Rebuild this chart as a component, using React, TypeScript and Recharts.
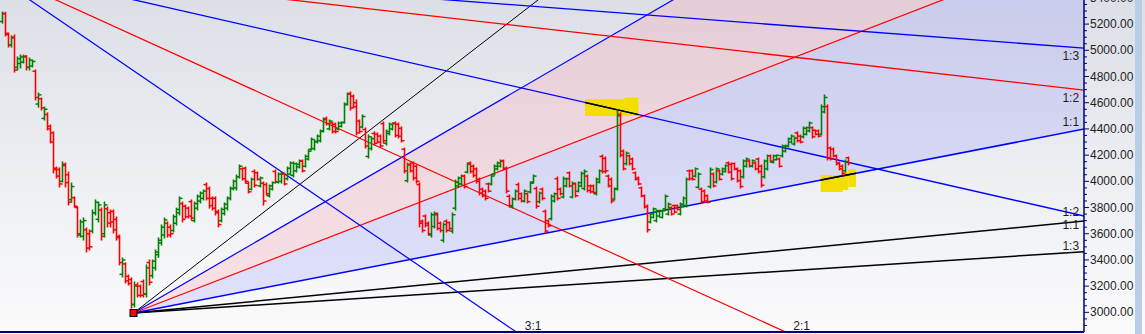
import React from 'react';
import {
  ComposedChart,
  Bar,
  Area,
  XAxis,
  YAxis,
  ReferenceLine,
  ReferenceArea,
  ReferenceDot,
} from 'recharts';

// ---------- price bars (OHLC), one entry per bar ----------
const opens = [
  5220, 5280, 5120, 5040, 5100, 4870, 4900, 4910, 4950, 4870,
  4880, 4840, 4590, 4630, 4480, 4510, 4420, 4370, 4100, 4090,
  4000, 4130, 4050, 3860, 3875, 3800, 3590, 3580, 3630, 3600,
  3620, 3760, 3710, 3780, 3600, 3790, 3760, 3770, 3710, 3580,
  3290, 3370, 3275, 3250, 3060, 3210, 3200, 3235, 3140, 3380,
  3280, 3340, 3440, 3530, 3590, 3680, 3650, 3625, 3680, 3760,
  3830, 3810, 3795, 3845, 3700, 3795, 3850, 3870, 3975, 3945,
  3870, 3870, 3770, 3700, 3755, 3795, 3870, 3945, 3950, 4035,
  4095, 4100, 3985, 3940, 4075, 4065, 3965, 3985, 3975, 3890,
  3940, 4075, 3995, 4000, 4055, 4020, 4055, 4045, 4080, 4110,
  4155, 4115, 4170, 4245, 4250, 4300, 4310, 4385, 4480, 4400,
  4445, 4435, 4400, 4420, 4450, 4590, 4670, 4650, 4600, 4460,
  4415, 4395, 4190, 4250, 4365, 4360, 4345, 4440, 4290, 4365,
  4400, 4445, 4435, 4405, 4245, 4005, 4130, 4140, 4115, 3975,
  3695, 3735, 3680, 3590, 3655, 3745, 3680, 3550, 3695, 3685,
  3620, 3795, 3965, 3980, 4040, 4070, 4140, 4115, 4095, 4015,
  3940, 3925, 3980, 3980, 4055, 4095, 4115, 4155, 4100, 3885,
  3805, 3865, 3975, 3905, 3850, 3905, 3920, 3995, 3945, 3845,
  3940, 3770, 3700, 3715, 3850, 4020, 3940, 3880, 3965, 4065,
  3880, 3980, 3925, 3965, 3945, 4040, 3965, 3965, 3905, 3995,
  4190, 4175, 4040, 4015, 3865, 3945, 4510, 4230, 4135, 4195,
  4170, 4065, 4025, 3950, 3890, 3810, 3690, 3725, 3700, 3735,
  3725, 3790, 3750, 3800, 3815, 3815, 3750, 3810, 3815, 4080,
  4080, 4040, 3955, 3940, 3925, 3890, 3960, 4055, 3995, 4080,
  4055, 4075, 4140, 4130, 4135, 4095, 4080, 4035, 4115, 4155,
  4115, 4140, 4170, 4115, 4035, 4095, 4195, 4145, 4165, 4170,
  4195, 4230, 4270, 4300, 4285, 4370, 4345, 4340, 4360, 4385,
  4410, 4390, 4385, 4360, 4530, 4570, 4255, 4245, 4195, 4140,
  4115, 4080, 4180,
];
const highs = [
  5292, 5290, 5132, 5110, 5117, 4949, 4964, 4964, 4960, 4941,
  4926, 4850, 4674, 4636, 4567, 4522, 4430, 4377, 4109, 4102,
  4148, 4140, 4071, 3987, 3881, 3804, 3705, 3720, 3644, 3629,
  3781, 3858, 3842, 3796, 3842, 3804, 3781, 3781, 3728, 3590,
  3415, 3377, 3285, 3262, 3232, 3224, 3209, 3247, 3362, 3400,
  3400, 3476, 3568, 3667, 3720, 3690, 3667, 3743, 3796, 3881,
  3842, 3819, 3804, 3858, 3842, 3896, 3919, 3934, 3987, 3957,
  3881, 3881, 3781, 3796, 3835, 3881, 3957, 4010, 4048, 4125,
  4102, 4109, 3995, 4025, 4087, 4071, 4033, 3995, 3987, 3972,
  3995, 4087, 4064, 4071, 4064, 4109, 4148, 4148, 4140, 4163,
  4163, 4201, 4239, 4331, 4316, 4354, 4392, 4483, 4491, 4468,
  4453, 4445, 4453, 4453, 4598, 4674, 4682, 4659, 4621, 4468,
  4506, 4407, 4354, 4338, 4377, 4369, 4354, 4453, 4392, 4445,
  4445, 4453, 4445, 4415, 4254, 4140, 4140, 4148, 4125, 3987,
  3705, 3743, 3690, 3758, 3766, 3758, 3690, 3682, 3705, 3690,
  3758, 4010, 4033, 4048, 4048, 4140, 4148, 4125, 4102, 4025,
  3949, 3934, 3987, 4048, 4125, 4148, 4163, 4163, 4109, 3896,
  3873, 3934, 3987, 3911, 3934, 3911, 3995, 4048, 3957, 3919,
  3949, 3781, 3705, 3896, 3911, 4033, 3949, 4033, 4025, 4071,
  3995, 3987, 3995, 4071, 4087, 4048, 3972, 3972, 4025, 4087,
  4201, 4186, 4048, 4025, 3949, 4544, 4522, 4239, 4224, 4201,
  4178, 4071, 4033, 3957, 3896, 3819, 3758, 3796, 3781, 3781,
  3781, 3896, 3835, 3804, 3819, 3819, 3835, 3881, 4025, 4087,
  4087, 4102, 4064, 3949, 3934, 3896, 4102, 4064, 4102, 4087,
  4102, 4125, 4148, 4140, 4140, 4102, 4087, 4163, 4178, 4163,
  4163, 4148, 4178, 4125, 4163, 4201, 4201, 4201, 4201, 4178,
  4277, 4277, 4331, 4354, 4338, 4377, 4354, 4415, 4415, 4453,
  4415, 4392, 4392, 4583, 4659, 4583, 4262, 4254, 4201, 4148,
  4125, 4163, 4186,
];
const lows = [
  5208, 5110, 5025, 5025, 4834, 4850, 4865, 4903, 4850, 4850,
  4873, 4621, 4567, 4544, 4468, 4392, 4293, 4064, 4025, 3957,
  3995, 3957, 3819, 3842, 3804, 3575, 3575, 3552, 3461, 3476,
  3606, 3743, 3690, 3552, 3575, 3652, 3652, 3606, 3552, 3362,
  3270, 3224, 3209, 3033, 3041, 3117, 3117, 3117, 3117, 3209,
  3262, 3323, 3420, 3514, 3568, 3575, 3575, 3613, 3667, 3743,
  3690, 3720, 3720, 3705, 3690, 3781, 3835, 3858, 3858, 3796,
  3781, 3743, 3652, 3690, 3743, 3781, 3858, 3934, 3934, 4025,
  4010, 3987, 3911, 3934, 3957, 4010, 3957, 3819, 3896, 3881,
  3934, 3987, 3987, 3987, 3972, 4010, 4048, 4033, 4071, 4102,
  4071, 4109, 4163, 4239, 4239, 4293, 4300, 4377, 4430, 4392,
  4369, 4369, 4392, 4415, 4445, 4583, 4544, 4560, 4354, 4369,
  4407, 4254, 4178, 4239, 4277, 4293, 4262, 4293, 4277, 4354,
  4392, 4338, 4331, 4300, 4064, 3995, 4071, 4010, 3987, 3652,
  3613, 3652, 3590, 3575, 3644, 3629, 3613, 3537, 3613, 3629,
  3606, 3781, 3957, 3972, 3949, 4064, 4064, 4033, 3987, 3896,
  3881, 3858, 3919, 3972, 4048, 4087, 4109, 4087, 3911, 3804,
  3796, 3858, 3858, 3842, 3842, 3835, 3911, 3987, 3796, 3835,
  3858, 3606, 3652, 3705, 3842, 3858, 3896, 3873, 3957, 3957,
  3873, 3881, 3919, 3957, 3934, 3919, 3911, 3911, 3896, 3987,
  4064, 4064, 3957, 3835, 3858, 3934, 4186, 4087, 4125, 4125,
  4087, 4010, 3972, 3881, 3796, 3613, 3682, 3720, 3690, 3728,
  3720, 3781, 3743, 3743, 3758, 3781, 3743, 3804, 3804, 4010,
  4010, 4033, 3949, 3835, 3842, 3835, 3949, 3957, 3987, 4010,
  4048, 4071, 4064, 4010, 4087, 3995, 3949, 4025, 4109, 4109,
  4109, 4087, 4064, 3957, 4025, 4087, 4148, 4140, 4163, 4109,
  4186, 4224, 4262, 4293, 4277, 4300, 4293, 4331, 4354, 4377,
  4331, 4354, 4338, 4354, 4522, 4163, 4163, 4186, 4125, 4087,
  4048, 4071, 4125,
];
const closes = [
  5280, 5130, 5040, 5095, 4850, 4935, 4950, 4955, 4870, 4925,
  4915, 4640, 4660, 4560, 4550, 4400, 4300, 4090, 4040, 3980,
  4120, 3990, 3840, 3960, 3810, 3600, 3690, 3700, 3490, 3500,
  3760, 3840, 3820, 3580, 3820, 3680, 3690, 3630, 3570, 3380,
  3400, 3240, 3220, 3060, 3200, 3130, 3130, 3140, 3340, 3230,
  3390, 3460, 3550, 3650, 3705, 3590, 3600, 3730, 3785, 3870,
  3710, 3730, 3735, 3720, 3830, 3885, 3910, 3925, 3870, 3815,
  3795, 3760, 3670, 3785, 3825, 3870, 3945, 4000, 4035, 4115,
  4020, 4000, 3920, 4015, 3970, 4015, 4025, 3850, 3905, 3965,
  3990, 3995, 4055, 4060, 3980, 4100, 4140, 4135, 4130, 4155,
  4080, 4190, 4230, 4320, 4305, 4345, 4380, 4470, 4440, 4460,
  4380, 4380, 4445, 4448, 4585, 4665, 4560, 4570, 4370, 4380,
  4495, 4270, 4340, 4325, 4290, 4300, 4270, 4310, 4380, 4435,
  4440, 4350, 4345, 4310, 4080, 4125, 4080, 4025, 4000, 3680,
  3625, 3665, 3600, 3745, 3755, 3640, 3625, 3670, 3625, 3640,
  3745, 3995, 4025, 4040, 3960, 4130, 4075, 4045, 4000, 3910,
  3890, 3870, 3925, 4040, 4115, 4140, 4155, 4095, 3925, 3815,
  3865, 3925, 3870, 3850, 3925, 3845, 3985, 4040, 3810, 3910,
  3870, 3620, 3660, 3885, 3905, 3870, 3905, 4020, 4020, 3965,
  3985, 3890, 3990, 4060, 4075, 3930, 3920, 3915, 4015, 4080,
  4075, 4080, 3965, 3850, 3940, 4500, 4200, 4095, 4215, 4135,
  4095, 4015, 3980, 3890, 3805, 3630, 3750, 3790, 3775, 3775,
  3775, 3885, 3825, 3750, 3765, 3785, 3825, 3870, 4015, 4020,
  4015, 4095, 4055, 3845, 3850, 3840, 4090, 3965, 4095, 4015,
  4095, 4120, 4070, 4020, 4095, 4005, 3960, 4155, 4170, 4115,
  4158, 4095, 4075, 3970, 4155, 4195, 4155, 4195, 4198, 4115,
  4270, 4272, 4325, 4345, 4330, 4310, 4300, 4405, 4410, 4445,
  4340, 4360, 4345, 4570, 4640, 4180, 4170, 4195, 4135, 4095,
  4060, 4150, 4140,
];

// ---------- axis ----------
const priceTicks = [3000, 3200, 3400, 3600, 3800, 4000, 4200, 4400, 4600, 4800, 5000, 5200, 5400];
const MINOR_STEP = 50;
const X_MIN = -0.5;
const X_MAX = 360.833;
const Y_MIN = 2850;
const Y_MAX = 5384;
const X_END = 372;

// ---------- Gann fans ----------
const lowPivot = { i: 44, p: 2995, unit: 4.43 };
const highPivot = { i: -8, p: 5657, unit: -5.21 };
const lowFan = [
  { ratio: 1 / 3, color: '#000000', w: 1.5 },
  { ratio: 1 / 2, color: '#000000', w: 1.5 },
  { ratio: 1, color: '#0000ff', w: 1.5 },
  { ratio: 2, color: '#ff0000', w: 1.2 },
  { ratio: 3, color: '#0000ff', w: 1.2 },
  { ratio: 4, color: '#000000', w: 1 },
];
const highFan = [
  { ratio: 1 / 3, color: '#0000ff', w: 1.3 },
  { ratio: 1 / 2, color: '#ff0000', w: 1.3 },
  { ratio: 1, color: '#0000ff', w: 1.3 },
  { ratio: 2, color: '#ff0000', w: 1.2 },
  { ratio: 3, color: '#0000ff', w: 1.2 },
];

const fanLabels = [
  { text: '1:3', i: 359.2, p: 4960, anchor: 'end' },
  { text: '1:2', i: 359.2, p: 4636, anchor: 'end' },
  { text: '1:1', i: 359.2, p: 4453, anchor: 'end' },
  { text: '1:2', i: 359.2, p: 3766, anchor: 'end' },
  { text: '1:1', i: 359.2, p: 3664, anchor: 'end' },
  { text: '1:3', i: 359.2, p: 3510, anchor: 'end' },
  { text: '3:1', i: 177.2, p: 2896, anchor: 'middle' },
  { text: '2:1', i: 266.7, p: 2896, anchor: 'middle' },
];

// ---------- highlighter marks ----------
const highlightBoxes = [
  { i1: 194.5, i2: 207.83, p1: 4499, p2: 4628 },
  { i1: 207.83, i2: 212.33, p1: 4499, p2: 4640 },
  { i1: 273.07, i2: 280.5, p1: 3919, p2: 4048 },
  { i1: 280.5, i2: 282.27, p1: 3934, p2: 4071 },
  { i1: 282.27, i2: 284.83, p1: 3957, p2: 4094 },
];
const highlightSegs = [
  { fan: 'high', ratio: 1, i1: 194.5, i2: 212.33 },
  { fan: 'low', ratio: 1, i1: 273.07, i2: 284.83 },
];

const GREEN = '#008000';
const RED = '#ff0000';
const NAVY = '#000080';
const FONT = '"Liberation Sans", Arial, sans-serif';

type Pivot = { i: number; p: number; unit: number };
const fanPrice = (pv: Pivot, ratio: number, i: number) => pv.p + pv.unit * ratio * (i - pv.i);

function OhlcShape(props: any) {
  const { x, y, width, height, payload } = props;
  if (!payload || x == null || y == null) return null;
  const { o, h, l, c } = payload;
  const top = Math.min(y, y + height);
  const bot = Math.max(y, y + height);
  const span = h - l || 1;
  const yOf = (v: number) => top + ((h - v) / span) * (bot - top);
  const cx = Math.round(x + width / 2) + 0.5;
  const color = c >= o ? GREEN : RED;
  return (
    <g>
      <line x1={cx} x2={cx} y1={top - 0.5} y2={bot + 0.5} stroke={color} strokeWidth={1.6} />
      <line x1={cx - 3} x2={cx} y1={yOf(o)} y2={yOf(o)} stroke={color} strokeWidth={1.5} />
      <line x1={cx} x2={cx + 3} y1={yOf(c)} y2={yOf(c)} stroke={color} strokeWidth={1.5} />
    </g>
  );
}

function RightTick(props: any) {
  const { x, y, payload } = props;
  const v = payload.value;
  const major = v % 200 === 0;
  return (
    <g>
      <line x1={x} x2={x + (major ? 5 : 3)} y1={y} y2={y} stroke={NAVY} strokeWidth={1} />
      {major && (
        <text
          x={x + 6}
          y={y}
          dominantBaseline="central"
          fontSize={12}
          fontFamily={FONT}
          fill="#1e1e1e"
        >
          {v.toFixed(2)}
        </text>
      )}
    </g>
  );
}

export default function App() {
  const bars = opens.map((o, i) => ({
    i,
    o,
    h: highs[i],
    l: lows[i],
    c: closes[i],
    range: [lows[i], highs[i]],
  }));

  const allTicks: number[] = [];
  for (let v = priceTicks[0] - 2 * MINOR_STEP; v <= priceTicks[priceTicks.length - 1]; v += MINOR_STEP) {
    allTicks.push(v);
  }

  const pinkBand = [
    { i: lowPivot.i, band: [lowPivot.p, lowPivot.p] },
    { i: X_END, band: [fanPrice(lowPivot, 2, X_END), fanPrice(lowPivot, 3, X_END)] },
  ];
  const lavBand = [
    { i: lowPivot.i, band: [lowPivot.p, lowPivot.p] },
    { i: X_END, band: [fanPrice(lowPivot, 1, X_END), fanPrice(lowPivot, 2, X_END)] },
  ];

  return (
    <div
      style={{
        position: 'relative',
        width: 1145,
        height: 334,
        overflow: 'hidden',
        background: 'linear-gradient(to bottom, #dcdfe6 0%, #eceef2 50%, #fbfbfc 100%)',
      }}
    >
      <style>{'body{margin:0}'}</style>
      <ComposedChart
        width={1145}
        height={334}
        data={bars}
        margin={{ top: 0, right: 0, bottom: 2, left: 0 }}
      >
        <XAxis type="number" dataKey="i" domain={[X_MIN, X_MAX]} allowDataOverflow hide />
        <YAxis
          orientation="right"
          type="number"
          domain={[Y_MIN, Y_MAX]}
          allowDataOverflow
          ticks={allTicks}
          interval={0}
          width={61}
          tickSize={0}
          tickMargin={0}
          tickLine={false}
          axisLine={{ stroke: NAVY, strokeWidth: 1.5 }}
          tick={<RightTick />}
        />

        <Area
          data={lavBand}
          dataKey="band"
          type="linear"
          stroke="none"
          fill="#8080ff"
          fillOpacity={0.2}
          dot={false}
          activeDot={false}
          isAnimationActive={false}
          zIndex={100}
        />
        <Area
          data={pinkBand}
          dataKey="band"
          type="linear"
          stroke="none"
          fill="#ff8da0"
          fillOpacity={0.22}
          dot={false}
          activeDot={false}
          isAnimationActive={false}
          zIndex={100}
        />

        {highlightBoxes.map((b, k) => (
          <ReferenceArea
            key={'hb' + k}
            x1={b.i1}
            x2={b.i2}
            y1={b.p1}
            y2={b.p2}
            fill="#f4de00"
            fillOpacity={1}
            stroke="none"
            ifOverflow="visible"
            zIndex={150}
          />
        ))}

        {lowFan.map((f, k) => (
          <ReferenceLine
            key={'lf' + k}
            segment={[
              { x: lowPivot.i, y: lowPivot.p },
              { x: X_END, y: fanPrice(lowPivot, f.ratio, X_END) },
            ]}
            stroke={f.color}
            strokeWidth={f.w}
            ifOverflow="hidden"
            zIndex={200}
          />
        ))}
        {highFan.map((f, k) => (
          <ReferenceLine
            key={'hf' + k}
            segment={[
              { x: highPivot.i, y: highPivot.p },
              { x: X_END, y: fanPrice(highPivot, f.ratio, X_END) },
            ]}
            stroke={f.color}
            strokeWidth={f.w}
            ifOverflow="hidden"
            zIndex={200}
          />
        ))}
        {highlightSegs.map((s, k) => {
          const pv = s.fan === 'high' ? highPivot : lowPivot;
          return (
            <ReferenceLine
              key={'hs' + k}
              segment={[
                { x: s.i1, y: fanPrice(pv, s.ratio, s.i1) },
                { x: s.i2, y: fanPrice(pv, s.ratio, s.i2) },
              ]}
              stroke="#000000"
              strokeWidth={1.5}
              ifOverflow="hidden"
              zIndex={250}
            />
          );
        })}

        <ReferenceLine y={Y_MIN} stroke={NAVY} strokeWidth={2} ifOverflow="visible" zIndex={260} />

        <Bar
          dataKey="range"
          barSize={3}
          shape={OhlcShape}
          isAnimationActive={false}
          zIndex={300}
        />

        <ReferenceDot
          x={lowPivot.i}
          y={lowPivot.p}
          r={4}
          ifOverflow="visible"
          zIndex={400}
          shape={(p: any) => (
            <rect
              x={p.cx - 3.5}
              y={p.cy - 3.5}
              width={7}
              height={7}
              fill="#ff0000"
              stroke="#000000"
              strokeWidth={1}
            />
          )}
        />

        {fanLabels.map((lab, k) => (
          <ReferenceDot
            key={'lab' + k}
            x={lab.i}
            y={lab.p}
            r={0}
            ifOverflow="visible"
            zIndex={500}
            shape={(p: any) => (
              <text
                x={p.cx}
                y={p.cy}
                textAnchor={lab.anchor as any}
                dominantBaseline="central"
                fontSize={12}
                fontFamily={FONT}
                fill="#1e1e1e"
              >
                {lab.text}
              </text>
            )}
          />
        ))}
      </ComposedChart>
      <div
        style={{
          position: 'absolute',
          left: 1135,
          top: 0,
          width: 7,
          height: 334,
          background: '#b9cde6',
        }}
      />
    </div>
  );
}
